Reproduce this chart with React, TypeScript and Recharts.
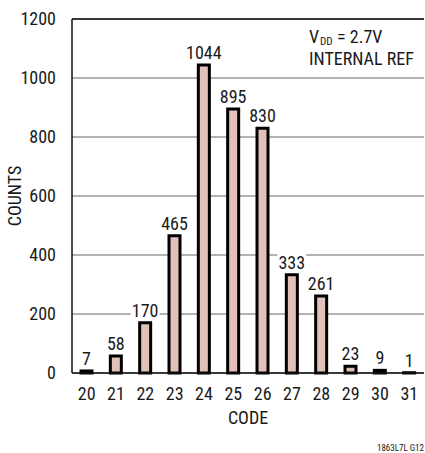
import { BarChart, Bar, XAxis, YAxis, CartesianGrid, ReferenceLine, LabelList, Label } from "recharts";

// histogram of output codes
const codes = ["20", "21", "22", "23", "24", "25", "26", "27", "28", "29", "30", "31"];
const counts = [7, 58, 170, 465, 1044, 895, 830, 333, 261, 23, 9, 1];
const yTicks = [0, 200, 400, 600, 800, 1000, 1200];

const FONT = "'Liberation Sans Narrow', 'Arial Narrow', 'Roboto Condensed', 'Liberation Sans', sans-serif";
const FS = 18;

const data = codes.map((c, i) => ({ code: c, count: counts[i] }));

function ValueLabel(props: any) {
  const { x, y, width, value } = props;
  const cx = x + width / 2;
  const w = String(value).length * 9 + 2;
  return (
    <g>
      <rect x={cx - w / 2} y={y - 21} width={w} height={17} fill="#fff" />
      <text x={cx} y={y - 6} textAnchor="middle" fontSize={FS} fontFamily={FONT} fill="#1a1a1a">
        {value}
      </text>
    </g>
  );
}

function CodeLabel(props: any) {
  const { viewBox } = props;
  const cx = viewBox.x + viewBox.width / 2;
  return (
    <g>
      <text x={cx} y={viewBox.y + 51} textAnchor="middle" fontSize={FS} fontFamily={FONT} fill="#1a1a1a">
        CODE
      </text>
      <text x={424} y={viewBox.y + 78} textAnchor="end" fontSize={9} fontFamily={FONT} fill="#1a1a1a">
        1863L7L G12
      </text>
    </g>
  );
}

function CountsLabel(props: any) {
  const { viewBox } = props;
  const cy = viewBox.y + viewBox.height / 2;
  return (
    <text
      x={21}
      y={cy}
      transform={`rotate(-90 21 ${cy})`}
      textAnchor="middle"
      fontSize={FS}
      fontFamily={FONT}
      fill="#1a1a1a"
    >
      COUNTS
    </text>
  );
}

function Note() {
  return (
    <g>
      <rect x={305} y={26} width={118} height={42} fill="#fff" />
      <text x={309} y={43} fontSize={FS} fontFamily={FONT} fill="#1a1a1a">V</text>
      <text x={320} y={45} fontSize={11} fontFamily={FONT} fill="#1a1a1a">DD</text>
      <text x={337} y={43} fontSize={FS} fontFamily={FONT} fill="#1a1a1a">= 2.7V</text>
      <text x={309} y={65} fontSize={FS} fontFamily={FONT} fill="#1a1a1a">INTERNAL REF</text>
    </g>
  );
}

export default function App() {
  return (
    <div style={{ position: "absolute", left: 0, top: 0, width: 425, height: 453, background: "#fff" }}>
      <BarChart
        width={425}
        height={453}
        data={data}
        margin={{ top: 19, right: 1, left: 0, bottom: 0 }}
        barSize={11}
      >
        <CartesianGrid vertical={false} stroke="#666" strokeWidth={1} />
        <ReferenceLine y={1200} stroke="#111" strokeWidth={1.5} />
        <XAxis
          dataKey="code"
          height={80}
          axisLine={{ stroke: "#111", strokeWidth: 1.5 }}
          tickLine={false}
          tickMargin={8}
          tick={{ fontSize: FS, fontFamily: FONT, fill: "#1a1a1a" }}
          interval={0}
        >
          <Label content={<CodeLabel />} />
        </XAxis>
        <YAxis
          width={72}
          domain={[0, 1200]}
          ticks={yTicks}
          axisLine={{ stroke: "#111", strokeWidth: 1.5 }}
          tickLine={false}
          tickMargin={10}
          tick={{ fontSize: FS, fontFamily: FONT, fill: "#1a1a1a" }}
        >
          <Label content={<CountsLabel />} />
        </YAxis>
        <Bar dataKey="count" fill="#e2c1bb" stroke="#000" strokeWidth={3} isAnimationActive={false}>
          <LabelList dataKey="count" content={<ValueLabel />} />
        </Bar>
        <ReferenceLine y={1200} stroke="none" label={() => <Note />} />
      </BarChart>
    </div>
  );
}
